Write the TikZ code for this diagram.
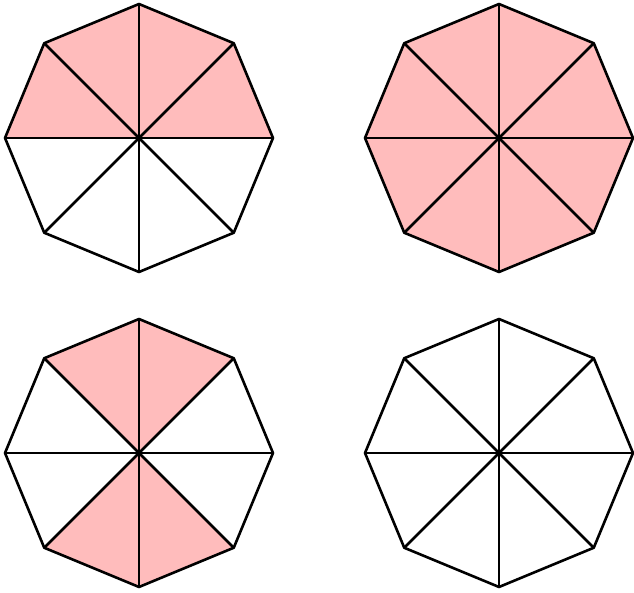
\documentclass[tikz,border=0pt]{standalone}
\definecolor{partpink}{HTML}{FFBCBC}
\usetikzlibrary{positioning}

\begin{document}
\begin{tikzpicture}[
    x=1pt, y=1pt,
    outline/.style={draw=black, line width=2.6pt, line join=round, line cap=round},
    pinkpart/.style={fill=partpink}
  ]
    \useasboundingbox (0,0) rectangle (634,593);
    % centres of the four octagons
    \coordinate (tl) at (139,455);
    \coordinate (tr) at (499,455);
    \coordinate (bl) at (139,140);
    \coordinate (br) at (499,140);

    % coloured eighths
    \foreach \c/\parts in {tl/{0,1,2,3}, tr/{0,1,2,3,4,5,6,7}, bl/{1,2,5,6}}
      \foreach \k in \parts
        \fill[pinkpart] (\c) -- ([shift={(45*\k:134)}]\c)
          -- ([shift={(45*\k+45:134)}]\c) -- cycle;

    % octagons and their diagonals
    \foreach \c in {tl,tr,bl,br} {
      \draw[outline] ([shift={(0:134)}]\c)
        \foreach \a in {45,90,...,315} { -- ([shift={(\a:134)}]\c) } -- cycle;
      \foreach \a in {0,45,90,135}
        \draw[outline] ([shift={(\a:134)}]\c) -- ([shift={(\a+180:134)}]\c);
    }
  \end{tikzpicture}
\end{document}
